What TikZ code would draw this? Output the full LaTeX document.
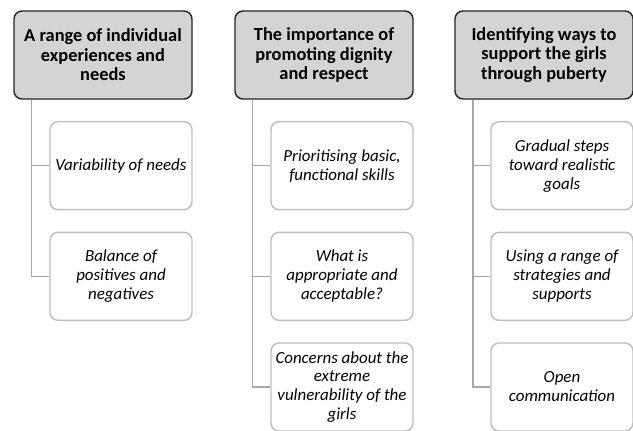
\documentclass[tikz,border=0pt]{standalone}
\usepackage{fontspec}
\setmainfont{Carlito}
\usetikzlibrary{positioning}
\definecolor{topicfill}{HTML}{D4D4D4}
\definecolor{topicline}{HTML}{262626}
\definecolor{itemline}{HTML}{BFBFBF}
\definecolor{linkline}{HTML}{A6A6A6}

\begin{document}
\begin{tikzpicture}[x=0.75pt,y=-0.75pt,node distance=83pt and 13.5pt,on grid,
	topic/.style={draw=topicline,fill=topicfill,line width=1.1pt,rounded corners=6pt,
		minimum width=133.5pt,minimum height=66pt,align=center,
		font=\bfseries\fontsize{13.8}{14.6}\selectfont},
	item/.style={draw=itemline,fill=white,line width=1.1pt,rounded corners=6pt,
		minimum width=106.5pt,minimum height=66pt,align=center,
		font=\itshape\fontsize{12.7}{14.2}\selectfont},
	link/.style={draw=linkline,line width=1.1pt}]
	\useasboundingbox (0,0) rectangle (633,430);
	\node[topic] (t_1) at (103,55) {A range of individual\\experiences and\\needs};
	\node[item] (t_1a) [below right = of t_1] {Variability of needs};
	\node[item] (t_1b) [below = of t_1a] {Balance of\\positives and\\negatives};
	\node[topic] (t_2) at (324,55) {The importance of\\promoting dignity\\and respect};
	\node[item] (t_2a) [below right = of t_2] {Prioritising basic,\\functional skills};
	\node[item] (t_2b) [below = of t_2a] {What is\\appropriate and\\acceptable?};
	\node[item] (t_2c) [below = of t_2b] {Concerns about the\\extreme\\vulnerability of the\\girls};
	\node[topic] (t_3) at (544,55) {Identifying ways to\\support the girls\\through puberty};
	\node[item] (t_3a) [below right = of t_3] {Gradual steps\\toward realistic\\goals};
	\node[item] (t_3b) [below = of t_3a] {Using a range of\\strategies and\\supports};
	\node[item] (t_3c) [below = of t_3b] {Open\\communication};
	% trunks under each topic
	\coordinate (l_1) at ([xshift=13.5pt]t_1.south west);
	\coordinate (l_2) at ([xshift=13.5pt]t_2.south west);
	\coordinate (l_3) at ([xshift=14pt]t_3.south west);
	\draw[link] (l_1) |- (t_1a.west) (l_1) |- (t_1b.west);
	\draw[link] (l_2) |- (t_2a.west) (l_2) |- (t_2b.west) (l_2) |- (t_2c.west);
	\draw[link] (l_3) |- (t_3a.west) (l_3) |- (t_3b.west) (l_3) |- (t_3c.west);
\end{tikzpicture}
\end{document}
